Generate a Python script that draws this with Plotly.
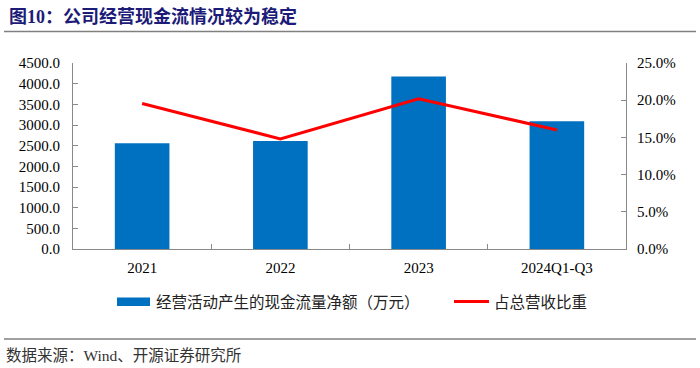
import plotly.graph_objects as go

categories = ["2021", "2022", "2023", "2024Q1-Q3"]
cash_flow = [2561, 2610, 4176, 3089]          # 经营活动产生的现金流量净额（万元）
ratio = [0.1955, 0.148, 0.202, 0.160]         # 占总营收比重
series_names = ["经营活动产生的现金流量净额（万元）", "占总营收比重"]
title_text = "<b>图10：公司经营现金流情况较为稳定</b>"
source_text = "数据来源：Wind、开源证券研究所"

W, H = 700, 368
L, R, T, B = 73, 74, 63, 119
PW, PH = W - L - R, H - T - B

def px(x):
    return (x - L) / PW

def py(y):
    return (H - B - y) / PH

SERIF = "Liberation Serif, Times New Roman, serif"
CJK = "Liberation Serif, Noto Sans CJK SC, sans-serif"
AX = "#898989"

fig = go.Figure()
fig.add_trace(go.Bar(x=categories, y=cash_flow, marker_color="#0070C0",
                     marker_line_width=0, name=series_names[0], showlegend=False))
fig.add_trace(go.Scatter(x=categories, y=ratio, yaxis="y2", mode="lines",
                         line=dict(color="#FF0000", width=3), name=series_names[1],
                         showlegend=False))

fig.update_layout(
    width=W, height=H, margin=dict(l=L, r=R, t=T, b=B),
    paper_bgcolor="white", plot_bgcolor="white",
    bargap=0.605,
    font=dict(family=SERIF, size=15, color="black"),
    xaxis=dict(type="category", showline=True, linecolor=AX, linewidth=1,
               ticks="inside", tickson="boundaries", ticklen=5, tickcolor=AX,
               showgrid=False, ticklabelstandoff=5,
               tickfont=dict(family=SERIF, size=15)),
    yaxis=dict(range=[0, 4500], dtick=500, tickformat=".1f", showline=True,
               linecolor=AX, ticks="inside", ticklen=5, tickcolor=AX,
               showgrid=False, zeroline=False, ticklabelstandoff=9,
               tickfont=dict(family=SERIF, size=15)),
    yaxis2=dict(range=[0, 0.25], dtick=0.05, tickformat=".1%", overlaying="y",
                side="right", showline=True, linecolor=AX, ticks="inside",
                ticklen=5, tickcolor=AX, showgrid=False, zeroline=False,
                ticklabelstandoff=7, tickfont=dict(family=SERIF, size=15)),
)

shapes = [
    dict(type="line", xref="paper", yref="paper", x0=px(4), x1=px(696),
         y0=py(31.5), y1=py(31.5), line=dict(color="#808080", width=1.5)),
    dict(type="line", xref="paper", yref="paper", x0=px(4), x1=px(696),
         y0=py(339), y1=py(339), line=dict(color="#808080", width=1.5)),
    dict(type="rect", xref="paper", yref="paper", x0=px(117), x1=px(150),
         y0=py(306), y1=py(297.5), fillcolor="#0070C0", line=dict(width=0)),
    dict(type="line", xref="paper", yref="paper", x0=px(454), x1=px(489),
         y0=py(301.5), y1=py(301.5), line=dict(color="#FF0000", width=3)),
]
annotations = [
    dict(text=title_text, xref="paper", yref="paper", x=px(7), y=py(16.5),
         xanchor="left", yanchor="middle", showarrow=False,
         font=dict(family=CJK, size=18, color="#1C1C78")),
    dict(text=source_text, xref="paper", yref="paper", x=px(4), y=py(355),
         xanchor="left", yanchor="middle", showarrow=False,
         font=dict(family=CJK, size=15.5, color="#333333")),
    dict(text=series_names[0], xref="paper", yref="paper", x=px(154), y=py(302),
         xanchor="left", yanchor="middle", showarrow=False,
         font=dict(family=CJK, size=15.5, color="#222222")),
    dict(text=series_names[1], xref="paper", yref="paper", x=px(492), y=py(302),
         xanchor="left", yanchor="middle", showarrow=False,
         font=dict(family=CJK, size=15.5, color="#222222")),
]
fig.update_layout(shapes=shapes, annotations=annotations)
fig.write_html("out.html", config={"displayModeBar": False},
               post_script="document.body.style.margin='0';document.body.style.overflow='hidden';")
